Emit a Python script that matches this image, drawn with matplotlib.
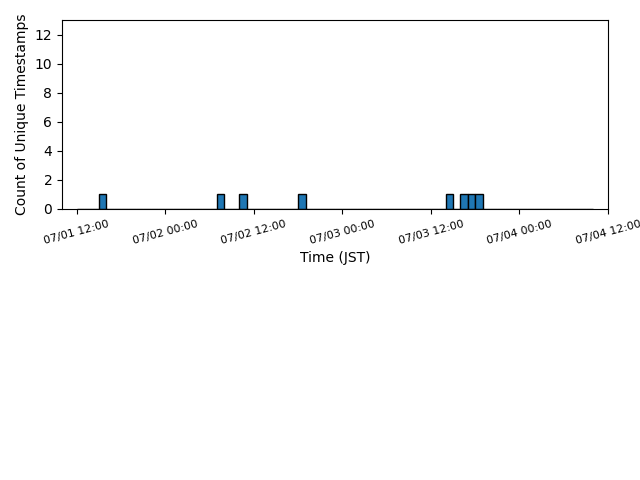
import pandas as pd
import matplotlib
matplotlib.use("Agg")
import matplotlib.pyplot as plt
import matplotlib.dates as mdates
from matplotlib.ticker import MultipleLocator

# unique timestamps (JST), one per hour bin
timestamps = [
    "2024-07-01 15:20", "2024-07-02 07:15", "2024-07-02 10:40",
    "2024-07-02 18:05", "2024-07-03 14:30", "2024-07-03 16:10",
    "2024-07-03 17:45", "2024-07-03 18:25",
]
bin_start = "2024-07-01 12:00"
bin_end = "2024-07-04 10:00"

times = pd.to_datetime(timestamps)
bins = pd.date_range(bin_start, bin_end, freq="h")

fig = plt.figure(figsize=(6.4, 4.8), dpi=100)
ax = fig.add_axes([0.097, 0.565, 0.853, 0.393])
ax.hist(mdates.date2num(times), bins=mdates.date2num(bins), color="#1f77b4", edgecolor="black")

ax.set_xlim(pd.Timestamp("2024-07-01 10:00"), pd.Timestamp("2024-07-04 12:00"))
ax.set_ylim(0, 13)
ax.yaxis.set_major_locator(MultipleLocator(2))
ax.xaxis.set_major_locator(mdates.HourLocator(byhour=[0, 12]))
ax.xaxis.set_major_formatter(mdates.DateFormatter("%m/%d %H:%M"))
plt.setp(ax.get_xticklabels(), rotation=15, fontsize=8)
ax.set_xlabel("Time (JST)")
ax.set_ylabel("Count of Unique Timestamps")

fig.savefig("out.png")
